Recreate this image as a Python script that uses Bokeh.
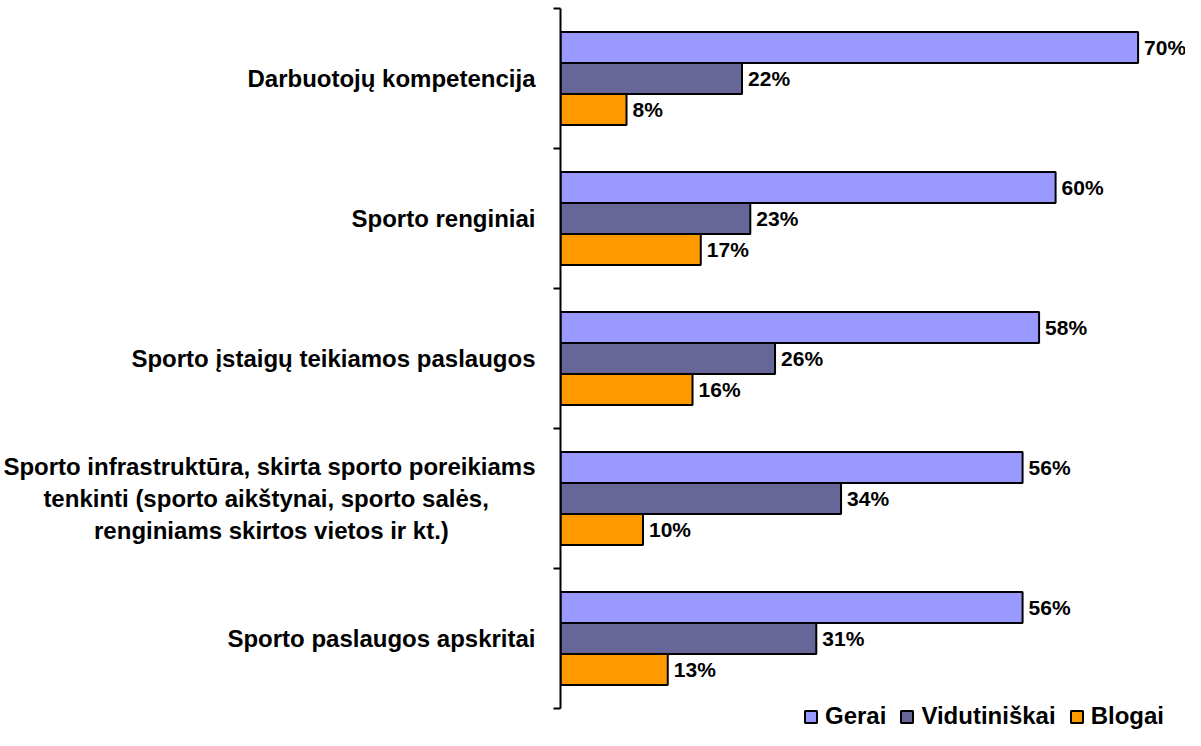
from bokeh.plotting import figure
from bokeh.models import (ColumnDataSource, Range1d, FixedTicker, Legend, LegendItem)
from bokeh.core.properties import value
from bokeh.embed import file_html
from bokeh.resources import INLINE

categories = [
    "Darbuotojų kompetencija",
    "Sporto renginiai",
    "Sporto įstaigų teikiamos paslaugos",
    "Sporto infrastruktūra, skirta sporto poreikiams\ntenkinti (sporto aikštynai, sporto salės,\nrenginiams skirtos vietos ir kt.)",
    "Sporto paslaugos apskritai",
]
gerai = [70, 60, 58, 56, 56]
vidutiniskai = [22, 23, 26, 34, 31]
blogai = [8, 17, 16, 10, 13]
series_names = ["Gerai", "Vidutiniškai", "Blogai"]
colors = ["#9999FF", "#666699", "#FF9900"]

FONT = "Liberation Sans"
FS_CAT = "24px"
FS_VAL = "21px"

W, H = 1185, 730
left_border = 552
top_border = 8
band_px = 140.0
n = len(categories)
frame_w = W - left_border
px_per_unit = 8.357
x_end = frame_w / px_per_unit
frame_h = H - top_border
y_low = (n - 0.5) - frame_h / band_px

p = figure(width=W, height=H, output_backend="svg", toolbar_location=None,
           x_range=Range1d(0, x_end), y_range=Range1d(y_low, n - 0.5),
           x_axis_location=None, min_border_left=left_border, min_border_right=0,
           min_border_top=top_border, min_border_bottom=0)
p.outline_line_color = None
p.grid.visible = False
p.background_fill_color = "white"

ycenters = [n - 1 - i for i in range(n)]
bar_h = 0.2214
offsets = [bar_h, 0.0, -bar_h]
all_vals = [gerai, vidutiniskai, blogai]

renderers = []
for vals, off, col in zip(all_vals, offsets, colors):
    src = ColumnDataSource(dict(
        y=[yc + off for yc in ycenters],
        right=vals,
        lbl=[f"{v}%" for v in vals],
    ))
    r = p.hbar(y="y", left=0, right="right", height=bar_h, source=src,
               fill_color=col, line_color="black", line_width=2)
    renderers.append(r)
    p.text(x="right", y="y", text="lbl", source=src, x_offset=6,
           text_font=value(FONT), text_font_style="bold", text_font_size=FS_VAL,
           text_baseline="middle", text_align="left", text_color="black")


def centered_block(label, font_px=24, em_space=0.278):
    # pad shorter lines (right-aligned by the axis) so the lines of a block look centred
    lines = label.split("\n")
    if len(lines) == 1:
        return label
    approx = {1: [530, 438, 354]}
    widths = approx[1][:len(lines)]
    wmax = max(widths)
    out = []
    for ln, w in zip(lines, widths):
        k = int(round((wmax - w) / 2 / (font_px * em_space)))
        out.append(ln + "\u00a0" * k)
    return "\n".join(out)


# one axis: labels at category centres, tick marks (minor) at band boundaries
ax = p.yaxis[0]
ax.ticker = FixedTicker(ticks=ycenters, minor_ticks=[k - 0.5 for k in range(n + 1)])
ax.bounds = (-0.5, n - 0.5)
ax.major_label_overrides = {yc: centered_block(cat) for yc, cat in zip(ycenters, categories)}
ax.major_label_standoff = 18
ax.major_label_text_font = FONT
ax.major_label_text_font_style = "bold"
ax.major_label_text_font_size = FS_CAT
ax.major_label_text_color = "black"
ax.major_tick_in = 0
ax.major_tick_out = 0
ax.major_tick_line_color = None
ax.minor_tick_in = 0
ax.minor_tick_out = 7
ax.minor_tick_line_width = 2
ax.minor_tick_line_color = "black"
ax.axis_line_width = 2
ax.axis_line_color = "black"

legend = Legend(items=[LegendItem(label=nm, renderers=[r]) for nm, r in zip(series_names, renderers)],
                orientation="horizontal", location=(243, 0),
                label_text_font=FONT, label_text_font_style="bold", label_text_font_size=FS_CAT,
                label_text_color="black",
                glyph_width=15, glyph_height=15, label_standoff=7, spacing=13,
                padding=0, margin=0, border_line_color=None, background_fill_alpha=0)
p.add_layout(legend)

open("out.html", "w").write(file_html(p, INLINE))
